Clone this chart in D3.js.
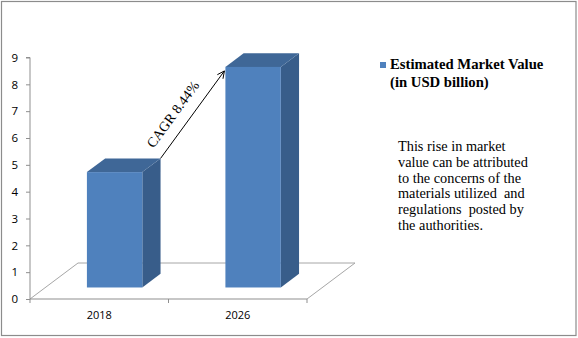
<!DOCTYPE html>
<html>
<head>
<meta charset="utf-8">
<script src="https://cdn.jsdelivr.net/npm/d3@7"></script>
<style>
  html, body { margin: 0; padding: 0; background: #fff; }
  svg { display: block; }
</style>
</head>
<body>
<svg id="chart" width="578" height="338"></svg>
<script>
// Market value by year (USD billion)
const categories = ["2018", "2026"];
const values = [4.3, 8.22];
const yTicks = [0, 1, 2, 3, 4, 5, 6, 7, 8, 9];
const seriesName = ["Estimated Market Value", "(in USD billion)"];
const cagrLabel = "CAGR 8.44%";
const noteLines = [
  "This rise in market",
  "value can be attributed",
  "to the concerns of the",
  "materials utilized  and",
  "regulations  posted by",
  "the authorities."
];

const svg = d3.select("#chart");
const W = 578, H = 338;

// frame
svg.append("rect").attr("x", 1.5).attr("y", 1.5).attr("width", W - 3.5).attr("height", H - 4)
  .attr("fill", "#fff").attr("stroke", "#8c8c8c").attr("stroke-width", 1.2);

// front plane scales
const x = d3.scaleBand().domain(categories).range([30, 307]).paddingInner(0).paddingOuter(0);
const y = d3.scaleLinear().domain([0, 9]).range([299, 57.5]);

// oblique depth vector for the full floor depth
const depth = { dx: 48, dy: -36 };
const proj = (px, py, d) => [px + depth.dx * d, py + depth.dy * d];

const grey = "#8f8f8f";

// floor outline
const x0 = x.range()[0], x1 = x.range()[1], yb = y(0);
const floor = [[x0, yb], proj(x0, yb, 1), proj(x1, yb, 1), [x1, yb]];
svg.append("path")
  .attr("d", d3.line()(floor))
  .attr("fill", "none").attr("stroke", "#a6a6a6").attr("stroke-width", 1);

// value axis
const yAxis = svg.append("g").attr("transform", `translate(${x0},0)`)
  .call(d3.axisLeft(y).tickValues(yTicks).tickSize(4).tickPadding(8).tickFormat(d3.format("d")));
yAxis.select(".domain").attr("stroke", grey).attr("d", `M-4,${y(9)}H0V${yb}`);
yAxis.selectAll(".tick line").attr("stroke", grey);
yAxis.selectAll(".tick text").attr("font-family", "Open Sans, sans-serif").attr("font-size", 11.5).attr("fill", "#000");

// category axis
const xAxis = svg.append("g").attr("transform", `translate(0,${yb})`)
  .call(d3.axisBottom(x).tickSize(0).tickPadding(12));
xAxis.select(".domain").attr("stroke", grey).attr("d", `M${x0},0H${x1}`);
xAxis.selectAll(".tick text").attr("font-family", "Open Sans, sans-serif").attr("font-size", 11).attr("fill", "#000");
const bounds = [x0].concat(categories.map(c => x(c) + x.bandwidth()));
xAxis.selectAll(".bound").data(bounds).join("line").attr("class", "bound")
  .attr("x1", d => d).attr("x2", d => d).attr("y1", 0).attr("y2", 4).attr("stroke", grey);

// 3D columns
const dFront = 0.32, dBack = 0.70;
const barW = x.bandwidth() * 0.4;
const bars = categories.map((c, i) => {
  const cx = x(c) + x.bandwidth() / 2;
  const [fx, fyb] = proj(cx - barW / 2, y(0), dFront);
  const [, fyt] = proj(cx, y(values[i]), dFront);
  const ox = depth.dx * (dBack - dFront), oy = depth.dy * (dBack - dFront);
  return { c, v: values[i], left: fx, right: fx + barW, top: fyt, bottom: fyb, ox, oy };
});

const g = svg.append("g");
bars.forEach(b => {
  // side face
  g.append("path").attr("d", d3.line()([
    [b.right, b.top], [b.right + b.ox, b.top + b.oy], [b.right + b.ox, b.bottom + b.oy], [b.right, b.bottom]
  ]) + "Z").attr("fill", "#385d8a");
  // top face
  g.append("path").attr("d", d3.line()([
    [b.left, b.top], [b.left + b.ox, b.top + b.oy], [b.right + b.ox, b.top + b.oy], [b.right, b.top]
  ]) + "Z").attr("fill", "#3f6797");
  // front face
  g.append("rect").attr("x", b.left).attr("y", b.top).attr("width", barW).attr("height", b.bottom - b.top)
    .attr("fill", "#4f81bd");
});

// growth arrow
const a = bars[0], bEnd = bars[1];
const start = [a.right + a.ox, a.top + a.oy];
const end = [bEnd.left - 1, bEnd.top + 4];
svg.append("line").attr("x1", start[0]).attr("y1", start[1]).attr("x2", end[0]).attr("y2", end[1])
  .attr("stroke", "#000").attr("stroke-width", 1);
const ang = Math.atan2(end[1] - start[1], end[0] - start[0]);
const hl = 8, ha = 0.45;
svg.append("path")
  .attr("d", d3.line()([
    [end[0] - hl * Math.cos(ang - ha), end[1] - hl * Math.sin(ang - ha)],
    end,
    [end[0] - hl * Math.cos(ang + ha), end[1] - hl * Math.sin(ang + ha)]
  ]))
  .attr("fill", "none").attr("stroke", "#000").attr("stroke-width", 1);

// CAGR label along the arrow
const mid = [(start[0] + end[0]) / 2, (start[1] + end[1]) / 2];
const nx = Math.sin(ang), ny = -Math.cos(ang);
svg.append("text")
  .attr("transform", `translate(${mid[0] + nx * 6 - 11},${mid[1] + ny * 6 + 6}) rotate(${ang * 180 / Math.PI})`)
  .attr("text-anchor", "middle")
  .attr("font-family", "Liberation Serif, Times New Roman, serif")
  .attr("font-size", 14)
  .attr("fill", "#000")
  .text(cagrLabel);

// legend
svg.append("rect").attr("x", 380).attr("y", 62).attr("width", 6).attr("height", 6).attr("fill", "#4f81bd");
svg.append("g").selectAll("text").data(seriesName).join("text")
  .attr("x", 390).attr("y", (d, i) => 68.5 + i * 18)
  .attr("font-family", "Liberation Serif, Times New Roman, serif")
  .attr("font-size", 14.7).attr("font-weight", "bold").attr("fill", "#000")
  .text(d => d);

// note
svg.append("g").selectAll("text").data(noteLines).join("text")
  .attr("x", 398).attr("y", (d, i) => 151 + i * 15.8)
  .attr("font-family", "Liberation Serif, Times New Roman, serif")
  .attr("font-size", 14.3).attr("fill", "#000")
  .style("white-space", "pre")
  .text(d => d);
</script>
</body>
</html>
